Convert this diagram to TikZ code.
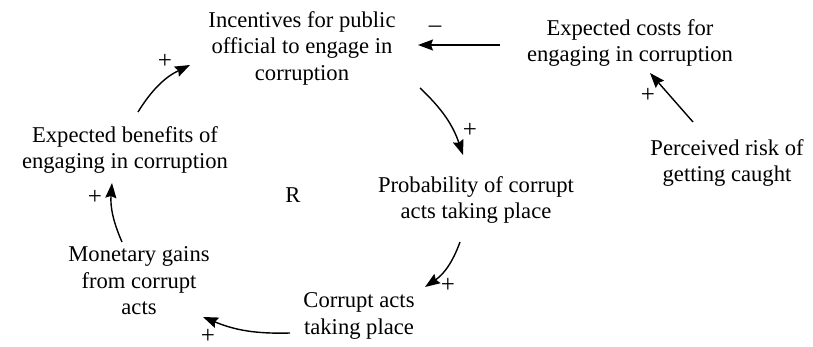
\documentclass[tikz,border=0pt]{standalone}
\usepackage{fontspec}
\setmainfont{Liberation Serif}
\usetikzlibrary{arrows.meta,calc}
\begin{document}
\begin{tikzpicture}[x=1pt,y=-1pt,
  lbl/.style={font=\fontsize{22.6}{26.5}\selectfont, align=center, inner sep=0pt},
  sgn/.style={font=\fontsize{25}{25}\selectfont, inner sep=0pt},
  arr/.style={line width=1.4pt, -{Stealth[length=15pt,width=11pt,inset=2pt]}}]
\useasboundingbox (0,0) rectangle (813,347);
\node[lbl] (inc) at (302,48) {Incentives for public\\official to engage in\\corruption};
\node[lbl] (cost) at (630,43) {Expected costs for\\engaging in corruption};
\node[lbl] (risk) at (727,163) {Perceived risk of\\getting caught};
\node[lbl] (prob) at (476,200) {Probability of corrupt\\acts taking place};
\node[lbl] (acts) at (359,316) {Corrupt acts\\taking place};
\node[lbl] (mon) at (139,281) {Monetary gains\\from corrupt\\acts};
\node[lbl] (ben) at (125,150) {Expected benefits of\\engaging in corruption};
\node[lbl] (r) at (293,195) {R};
% connectors
\draw[arr] ($(inc)+(118,40)$) to[bend left=14] ($(prob)+(-13,-45)$);
\draw[arr] ($(prob)+(-16,42)$) to[bend left=18] ($(acts)+(66,-29)$);
\draw[arr] ($(acts)+(-69,17)$) to[bend left=12] ($(mon)+(64,36)$);
\draw[arr] ($(mon)+(-17,-39)$) to[bend left=14] ($(ben)+(-13,33)$);
\draw[arr] ($(ben)+(13,-38)$) to[bend left=16] ($(inc)+(-112,17)$);
\draw[arr] ($(cost)+(-130,2)$) -- ($(inc)+(116,-3)$);
\draw[arr] ($(risk)+(-34,-41)$) -- ($(cost)+(20,30)$);
% signs
\node[sgn] (s1) at (470,130) {+};
\node[sgn] (s2) at (448,285) {+};
\node[sgn] (s3) at (208,336) {+};
\node[sgn] (s4) at (95,197) {+};
\node[sgn] (s5) at (165,61) {+};
\node[sgn] (s6) at (435,29) {\textendash};
\node[sgn] (s7) at (648,95) {+};
\end{tikzpicture}
\end{document}
